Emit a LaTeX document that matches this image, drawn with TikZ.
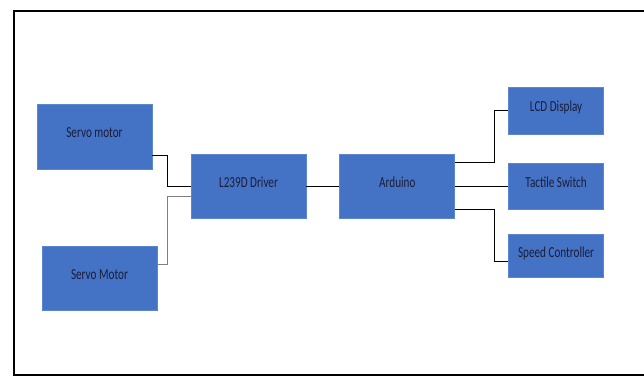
\documentclass[tikz,border=0pt]{standalone}
\usepackage{fontspec}
\setmainfont{Carlito}
\newfontfamily\blockfont[FakeStretch=0.73]{Carlito}
\usepackage{xcolor}
\usepackage{tikz}
\usetikzlibrary{positioning,calc}

\definecolor{boxblue}{HTML}{4472C4}
\definecolor{boxedge}{HTML}{5B87CF}
\definecolor{labelink}{HTML}{1B1D3A}

\begin{document}
\begin{tikzpicture}[
  x=1pt, y=1pt,
  block/.style={draw=boxedge, fill=boxblue, line width=0.8pt, minimum width=115pt, minimum height=64pt, inner sep=0pt, align=center, text height=10pt, text depth=8pt, text=labelink, font=\blockfont\fontsize{15.3}{17}\selectfont},
  smallblock/.style={block, minimum width=95pt, minimum height=46pt},
  wire/.style={line width=0.9pt, draw=black},
  greywire/.style={line width=0.9pt, draw=gray},
]
\useasboundingbox (0,0) rectangle (644,376);
\draw[line width=2pt] (13.5,1.5) rectangle (700,365);

\node[block] (driver) at (248.5,190) {L239D Driver};
\node[block, right=33pt of driver] (arduino) {Arduino};
\node[block, minimum height=65pt] (servoa) at (94.5,239.5) {Servo motor};
\node[block] (servob) at (99.5,98) {Servo Motor};
\node[smallblock, right=53pt of arduino] (tactile) {Tactile Switch};
\node[smallblock, minimum height=47pt, above=28pt of tactile] (lcd) {LCD Display};
\node[smallblock, minimum height=43pt, below=25pt of tactile] (speed) {Speed Controller};

\draw[wire] ([yshift=14pt]servoa.south east) -- ++(15pt,0) |- (driver.west);
\draw[greywire] ([yshift=14pt]servob.east) -- ++(10pt,0) |- ([yshift=-10.5pt]driver.west);
\draw[wire] (driver.east) -- (arduino.west);
\draw[wire] ([yshift=-9pt]arduino.north east) -- ++(39pt,0) |- (lcd.west);
\draw[wire] (arduino.east) -- (tactile.west);
\draw[wire] ([yshift=9pt]arduino.south east) -- ++(39pt,0) |- ([yshift=-5.5pt]speed.west);

\end{tikzpicture}
\end{document}
